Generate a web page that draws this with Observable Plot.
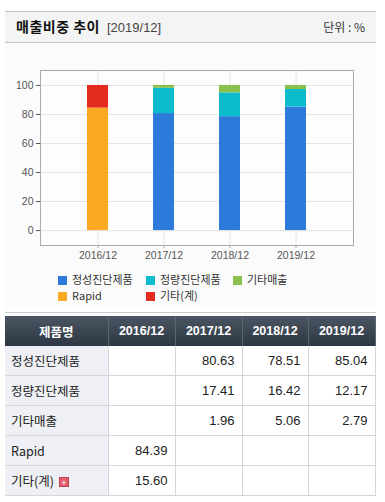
<!DOCTYPE html>
<html><head><meta charset="utf-8">
<script src="https://cdn.jsdelivr.net/npm/d3@7"></script>
<script src="https://cdn.jsdelivr.net/npm/@observablehq/plot@0.6"></script>
<style>
body{margin:0;width:385px;height:502px;background:#fff;font-family:"Noto Sans CJK KR","Liberation Sans",sans-serif;position:relative;overflow:hidden;}
#hdr{position:absolute;left:5px;top:11px;width:371px;height:30px;background:#f4f4f4;border-top:1px solid #c4c4c4;border-bottom:1px solid #c4c4c4;}
#hdr .t{position:absolute;left:11px;top:6px;font-size:14px;font-weight:bold;color:#111;letter-spacing:0.5px;line-height:17px;}
#hdr .d{position:absolute;left:102px;top:8px;font-size:13px;color:#444;font-family:"Liberation Sans",sans-serif;line-height:15px;}
#hdr .u{position:absolute;right:11px;top:7px;font-size:12px;color:#333;line-height:15px;}
#chartbg{position:absolute;left:5px;top:43px;width:371px;height:265px;background:#fbfbfb;}
#chart{position:absolute;left:0;top:42px;}
#legend{position:absolute;left:58px;top:272px;width:300px;font-size:11px;color:#333;line-height:14px;}
#legend .it{position:absolute;white-space:nowrap;height:14px;line-height:14px;}
#legend .sw{display:inline-block;width:9px;height:9px;margin-right:5px;vertical-align:-1px;}
#tbl{position:absolute;left:5px;top:316px;border-collapse:collapse;font-size:12.5px;table-layout:fixed;}
#tblline{position:absolute;left:5px;top:312px;width:371px;border-top:1px solid #ccc;}
#tbl th{background:linear-gradient(#4b5663,#2d3743);color:#fff;font-weight:bold;height:30px;padding:0;border-right:1px solid #5a6470;font-family:"Liberation Sans","Noto Sans CJK KR",sans-serif;font-size:12.5px;}
#tbl th.first{font-family:"Noto Sans CJK KR",sans-serif;}
#tbl td{height:29px;padding:0 7px;border-bottom:1px solid #d6d6d6;border-right:1px solid #d6d6d6;text-align:right;color:#222;font-family:"Liberation Sans",sans-serif;font-size:13px;}
#tbl td.first{text-align:left;background:#eef0f5;color:#222;padding-left:6px;font-family:"Noto Sans CJK KR",sans-serif;font-size:12.5px;}
.plus{display:inline-block;width:10px;height:10px;background:#e06070;color:#fff;font-size:9px;line-height:9px;text-align:center;margin-left:5px;vertical-align:0px;border:1px solid #c04050;box-sizing:border-box;}
</style></head>
<body>
<div id="hdr"><span class="t">매출비중 추이</span><span class="d">[2019/12]</span><span class="u">단위 : %</span></div>
<div id="chartbg"></div>
<div id="chart"></div>
<div id="legend"></div>
<div id="tblline"></div>
<table id="tbl"></table>
<script>
const periods = ["2016/12","2017/12","2018/12","2019/12"];
const seriesNames = ["정성진단제품","정량진단제품","기타매출","Rapid","기타(계)"];
const seriesColors = ["#2c7bdb","#0cbccc","#8cc04c","#fba822","#e42b1f"];
const v정성 = [null, 80.63, 78.51, 85.04];
const v정량 = [null, 17.41, 16.42, 12.17];
const v기타매출 = [null, 1.96, 5.06, 2.79];
const vRapid = [84.39, null, null, null];
const v기타계 = [15.60, null, null, null];
const yTicks = [0,20,40,60,80,100];

const seriesValues = [v정성, v정량, v기타매출, vRapid, v기타계];
const data = [];
seriesNames.forEach((s,i)=>periods.forEach((p,j)=>{
  const v = seriesValues[i][j];
  if (v != null) data.push({period:p, series:s, value:v});
}));

const chart = Plot.plot({
  width: 385, height: 228,
  marginLeft: 40, marginRight: 32, marginTop: 28, marginBottom: 25,
  style: {background:"transparent", fontFamily:"Liberation Sans, sans-serif", fontSize:"10.5px", color:"#555"},
  x: {domain: periods, padding: 0.68, label: null},
  y: {domain: [-10.3, 110.3], label: null},
  color: {domain: seriesNames, range: seriesColors},
  marks: [
    Plot.frame({fill:"#fdfdfd"}),
    Plot.gridY(yTicks, {stroke:"#e4e4e4", strokeOpacity:1}),
    Plot.gridX(periods, {stroke:"#e4e4e4", strokeOpacity:1}),
    Plot.barY(data, Plot.stackY({x:"period", y:"value", fill:"series", order: seriesNames})),
    Plot.axisX({tickSize:3, stroke:"#aaa", color:"#555", tickPadding:3}),
    Plot.axisY({ticks: yTicks, tickSize:4, color:"#555", tickPadding:3}),
    Plot.frame({stroke:"#aaa"})
  ]
});
document.getElementById("chart").appendChild(chart);

// legend
const legendPos = [[0,0],[88,0],[175,0],[0,16],[88,16]];
const lg = document.getElementById("legend");
seriesNames.forEach((s,i)=>{
  const d = document.createElement("div");
  d.className="it";
  d.style.left = legendPos[i][0]+"px";
  d.style.top = legendPos[i][1]+"px";
  d.innerHTML = `<span class="sw" style="background:${seriesColors[i]}"></span>${s}`;
  lg.appendChild(d);
});

// table
const colWidths = [103,67,67,66,67];
const tbl = document.getElementById("tbl");
let html = "<colgroup>"+colWidths.map(w=>`<col style="width:${w}px">`).join("")+"</colgroup>";
html += `<tr><th class="first">제품명</th>${periods.map(p=>`<th>${p}</th>`).join("")}</tr>`;
seriesNames.forEach((s,i)=>{
  const label = s === "기타(계)" ? `${s}<span class="plus">+</span>` : s;
  html += `<tr><td class="first">${label}</td>${seriesValues[i].map(v=>`<td>${v==null?"":v.toFixed(2)}</td>`).join("")}</tr>`;
});
tbl.innerHTML = html;
</script>
</body></html>
